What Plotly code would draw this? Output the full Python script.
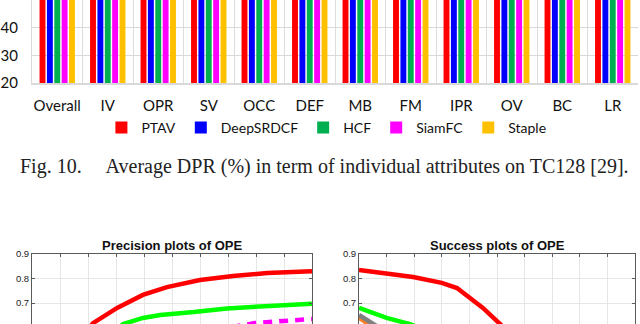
import plotly.graph_objects as go

# ---------------- data ----------------
attributes = ["Overall", "IV", "OPR", "SV", "OCC", "DEF", "MB", "FM", "IPR", "OV", "BC", "LR"]
trackers = ["PTAV", "DeepSRDCF", "HCF", "SiamFC", "Staple"]
tracker_colors = ["#FF0000", "#0000FF", "#00B050", "#FF00FF", "#FFC000"]
dpr_ptav = [74.1, 72.0, 73.5, 71.5, 69.0, 70.5, 72.5, 68.0, 73.0, 70.0, 73.5, 63.0]
dpr_deepsrdcf = [74.0, 72.5, 72.0, 70.5, 68.5, 68.0, 70.0, 67.5, 71.0, 69.5, 72.0, 61.0]
dpr_hcf = [70.5, 71.0, 70.0, 68.5, 65.5, 69.0, 68.0, 66.0, 71.5, 64.0, 72.5, 60.0]
dpr_siamfc = [69.0, 66.5, 68.5, 68.0, 64.0, 63.0, 67.0, 66.5, 67.5, 66.0, 66.0, 62.5]
dpr_staple = [66.5, 65.0, 64.0, 63.5, 61.5, 64.5, 63.0, 59.0, 65.0, 57.5, 63.0, 55.0]
dpr_values = [dpr_ptav, dpr_deepsrdcf, dpr_hcf, dpr_siamfc, dpr_staple]

# precision plot (location error threshold)
prec_thr = [5, 10.9, 15.2, 19.8, 24.1, 30, 35.9, 42, 50]
prec_red = [0.45, 0.618, 0.680, 0.733, 0.765, 0.794, 0.810, 0.822, 0.830]
prec_green_thr = [10, 16.3, 19.8, 22.9, 28.9, 34.8, 40.7, 50]
prec_green = [0.50, 0.614, 0.639, 0.651, 0.663, 0.678, 0.686, 0.697]
prec_mag_thr = [30, 39.8, 50]
prec_mag = [0.58, 0.618, 0.635]

# success plot (overlap threshold)
succ_thr = [0, 0.101, 0.196, 0.30, 0.355, 0.449, 0.511, 0.6]
succ_red = [0.835, 0.822, 0.806, 0.782, 0.761, 0.680, 0.618, 0.52]
succ_green_thr = [0, 0.1, 0.185, 0.3]
succ_green = [0.680, 0.639, 0.614, 0.56]
succ_gray_thr = [0, 0.05, 0.1]
succ_gray = [0.651, 0.617, 0.58]
succ_orange_thr = [0, 0.047, 0.1]
succ_orange = [0.639, 0.610, 0.57]
succ_maroon_thr = [0.02, 0.04, 0.1]
succ_maroon = [0.625, 0.614, 0.58]

caption = "Fig. 10.\u2003 Average DPR (%) in term of individual attributes on TC128 [29]."

# ---------------- figure ----------------
fig = go.Figure()

for name, color, vals in zip(trackers, tracker_colors, dpr_values):
    fig.add_trace(go.Bar(x=attributes, y=vals, name=name, marker=dict(color=color, line=dict(width=0)),
                         xaxis="x", yaxis="y"))

line_w = 4.5
fig.add_trace(go.Scatter(x=prec_thr, y=prec_red, mode="lines", line=dict(color="#FF0000", width=line_w),
                         xaxis="x2", yaxis="y2", showlegend=False))
fig.add_trace(go.Scatter(x=prec_green_thr, y=prec_green, mode="lines", line=dict(color="#00FF00", width=line_w),
                         xaxis="x2", yaxis="y2", showlegend=False))
fig.add_trace(go.Scatter(x=prec_mag_thr, y=prec_mag, mode="lines",
                         line=dict(color="#FF00FF", width=line_w, dash="9px,7px"),
                         xaxis="x2", yaxis="y2", showlegend=False))

fig.add_trace(go.Scatter(x=succ_maroon_thr, y=succ_maroon, mode="lines", line=dict(color="#8B1A1A", width=line_w),
                         xaxis="x3", yaxis="y3", showlegend=False))
fig.add_trace(go.Scatter(x=succ_orange_thr, y=succ_orange, mode="lines", line=dict(color="#FF7F27", width=line_w),
                         xaxis="x3", yaxis="y3", showlegend=False))
fig.add_trace(go.Scatter(x=succ_gray_thr, y=succ_gray, mode="lines", line=dict(color="#808080", width=line_w),
                         xaxis="x3", yaxis="y3", showlegend=False))
fig.add_trace(go.Scatter(x=succ_green_thr, y=succ_green, mode="lines", line=dict(color="#00FF00", width=line_w),
                         xaxis="x3", yaxis="y3", showlegend=False))
fig.add_trace(go.Scatter(x=succ_thr, y=succ_red, mode="lines", line=dict(color="#FF0000", width=line_w),
                         xaxis="x3", yaxis="y3", showlegend=False))

W, H = 640, 324
def px(x):
    return x / W
def py(y):
    return 1 - y / H

bar_font = dict(family="Lato, Noto Sans, sans-serif", size=15, color="#111111")
legend_font = dict(family="Lato, Noto Sans, sans-serif", size=14, color="#111111")
small_font = dict(family="Liberation Sans, Arial, sans-serif", size=9.5, color="#222222")
grid_c = "#E6E6E6"
axis_c = "#5A5A5A"

fig.update_layout(
    width=W, height=H,
    margin=dict(l=0, r=0, t=0, b=0, autoexpand=False),
    paper_bgcolor="white", plot_bgcolor="white",
    barmode="group", bargap=0.27, bargroupgap=0.2,
    showlegend=True,
    legend=dict(orientation="h", x=0.51, xanchor="center", y=py(128), yanchor="middle",
                font=legend_font, bgcolor="rgba(0,0,0,0)", traceorder="normal", itemwidth=30),
    xaxis=dict(domain=[px(32), px(638)], anchor="y", type="category", automargin=False, tickangle=0,
               showgrid=True, gridcolor="#DDDDDD", gridwidth=1, tickson="boundaries",
               showline=True, linecolor="#D9D9D9", linewidth=2, ticks="",
               tickfont=bar_font, ticklabelstandoff=8),
    yaxis=dict(domain=[py(83), 1.0], anchor="x", range=[20, 50], tickvals=[20, 30, 40, 50],
               automargin=False,
               showgrid=True, gridcolor="#D9D9D9", gridwidth=1, zeroline=False,
               showline=True, linecolor="#D9D9D9", linewidth=1, ticks="",
               tickfont=bar_font, ticklabelstandoff=10),
    xaxis2=dict(domain=[px(32), px(312)], anchor="y2", side="top", range=[0, 50], dtick=5, automargin=False,
                showgrid=True, gridcolor=grid_c, showline=True, linecolor=axis_c, linewidth=1,
                ticks="inside", ticklen=3, tickcolor=axis_c, showticklabels=False, zeroline=False),
    yaxis2=dict(domain=[0, py(254)], anchor="x2", range=[0.6143, 0.9], dtick=0.1, automargin=False,
                showgrid=True, gridcolor=grid_c, showline=True, linecolor=axis_c, linewidth=1,
                mirror="ticks", ticks="inside", ticklen=3, tickcolor=axis_c,
                tickfont=small_font, tickformat=".1f", ticklabelstandoff=0, zeroline=False),
    xaxis3=dict(domain=[px(359), px(635)], anchor="y3", side="top", range=[0, 1], dtick=0.1, automargin=False,
                showgrid=True, gridcolor=grid_c, showline=True, linecolor=axis_c, linewidth=1,
                ticks="inside", ticklen=3, tickcolor=axis_c, showticklabels=False, zeroline=False),
    yaxis3=dict(domain=[0, py(254)], anchor="x3", range=[0.6143, 0.9], dtick=0.1, automargin=False,
                showgrid=True, gridcolor=grid_c, showline=True, linecolor=axis_c, linewidth=1,
                mirror="ticks", ticks="inside", ticklen=3, tickcolor=axis_c,
                tickfont=small_font, tickformat=".1f", ticklabelstandoff=0, zeroline=False),
    annotations=[
        dict(text=caption, xref="paper", yref="paper", x=px(18), y=py(166), xanchor="left", yanchor="middle",
             showarrow=False, font=dict(family="Liberation Serif, Times New Roman, serif", size=20, color="#222222")),
        dict(text="<b>Precision plots of OPE</b>", xref="paper", yref="paper", x=px(172), y=py(245),
             xanchor="center", yanchor="middle", showarrow=False,
             font=dict(family="Liberation Sans, Arial, sans-serif", size=13, color="#111111")),
        dict(text="<b>Success plots of OPE</b>", xref="paper", yref="paper", x=px(497), y=py(245),
             xanchor="center", yanchor="middle", showarrow=False,
             font=dict(family="Liberation Sans, Arial, sans-serif", size=13, color="#111111")),
    ],
)

fig.write_html("out.html", config={"displayModeBar": False},
               post_script="document.body.style.margin='0';document.body.style.overflow='hidden';")
